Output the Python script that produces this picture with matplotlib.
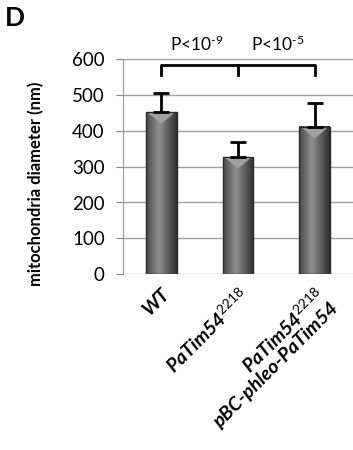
import matplotlib.pyplot as plt
import numpy as np

strains = ["WT", "PaTim54$^{2218}$", "PaTim54$^{2218}$\npBC-phleo-PaTim54"]
diameter = [452, 327, 411]
sd_upper = [53, 42, 67]
pvals = ["P<10$^{\u2010 9}$", "P<10$^{\u2010 5}$"]

plt.rcParams['font.family'] = ['Lato', 'DejaVu Sans']
plt.rcParams['mathtext.fontset'] = 'custom'
plt.rcParams['mathtext.rm'] = 'Lato'
plt.rcParams['mathtext.it'] = 'Lato:italic:bold'
plt.rcParams['mathtext.bf'] = 'Lato:bold'

fig = plt.figure(figsize=(3.53, 4.5), dpi=100)
ax = fig.add_axes([0.348, 0.391, 0.652, 0.477])

x = np.arange(len(strains))
w = 0.4

# gradient fill for the bevelled bars
cols = np.linspace(0, 1, 64)
shade = 0.56 - 0.32 * np.abs(cols - 0.42) * 2.0
grad = np.tile(shade, (2, 1))
for xi, h in zip(x, diameter):
    ax.imshow(grad, cmap='gray', vmin=0, vmax=1, aspect='auto',
              extent=(xi - w / 2, xi + w / 2, 0, h), zorder=2, interpolation='bilinear')
    # lighter bevel at the top
    ax.fill([xi - w / 2 + 0.02, xi + w / 2 - 0.02, xi], [h, h, h - 32],
            color='#a0a0a0', zorder=3, lw=0)
    ax.bar(xi, h, w, fill=False, edgecolor='#2a2a2a', lw=1, zorder=4)

ax.errorbar(x, diameter, yerr=[np.zeros(3), sd_upper], fmt='none',
            ecolor='black', elinewidth=2, capsize=6, capthick=2, zorder=5)

ax.set_xlim(-0.5, 2.5)
ax.set_ylim(0, 600)
ax.set_yticks(range(0, 601, 100))
ax.tick_params(axis='y', labelsize=13.5, length=5, color='#888888', pad=8)
ax.yaxis.grid(True, color='#a0a0a0', lw=1)
ax.set_axisbelow(True)
for s in ['top', 'right', 'bottom']:
    ax.spines[s].set_visible(False)
ax.spines['left'].set_color('#999999')

ax.set_xticks(x)
ax.set_xticklabels(strains, rotation=45, ha='right', rotation_mode='anchor',
                   fontsize=14, fontweight='bold', fontstyle='italic', linespacing=0.95)
ax.tick_params(axis='x', length=0, pad=8)
ax.set_ylabel("mitochondria diameter (nm)", fontsize=12, fontweight='bold')
ax.yaxis.set_label_coords(-0.34, 0.42)

# significance bracket
yb, yd = 584, 556
ax.plot([0, 0, 2, 2], [yd, yb, yb, yd], color='black', lw=2, clip_on=False, zorder=6)
ax.plot([1, 1], [yb, yd], color='black', lw=2, clip_on=False, zorder=6)
ax.text(0.46, 643, pvals[0], ha='center', va='center', fontsize=12.5, clip_on=False)
ax.text(1.52, 643, pvals[1], ha='center', va='center', fontsize=12.5, clip_on=False)

fig.text(0.015, 0.961, "D", fontsize=19, fontweight='bold', va='center')

fig.savefig("out.png", dpi=100)
